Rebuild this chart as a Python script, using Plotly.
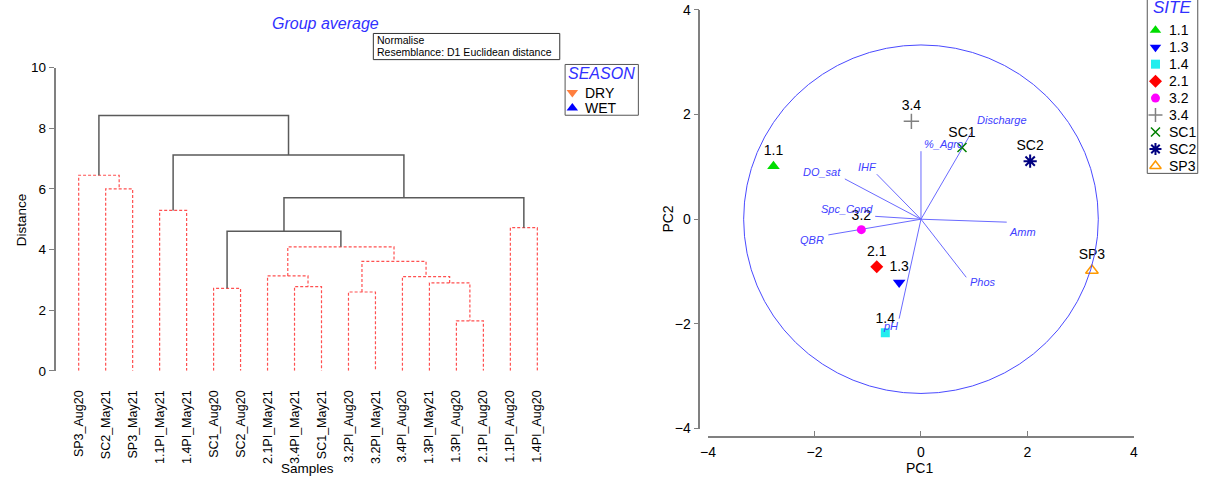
import plotly.graph_objects as go

# ---------------- DATA ----------------
# Dendrogram (group average, Euclidean distance on normalised data)
leaf_labels = ["SP3_Aug20", "SC2_May21", "SP3_May21", "1.1PI_May21", "1.4PI_May21",
               "SC1_Aug20", "SC2_Aug20", "2.1PI_May21", "3.4PI_May21", "SC1_May21",
               "3.2PI_Aug20", "3.2PI_May21", "3.4PI_Aug20", "1.3PI_May21", "1.3PI_Aug20",
               "2.1PI_Aug20", "1.1PI_Aug20", "1.4PI_Aug20"]
leaf_season = ["DRY", "WET", "WET", "WET", "WET", "DRY", "DRY", "WET", "WET", "WET",
               "DRY", "WET", "DRY", "WET", "DRY", "DRY", "DRY", "DRY"]
# internal node k has id 18+k; children refer to leaf ids (0..17) or node ids
merge_left = [1, 0, 3, 5, 8, 7, 10, 14, 13, 12, 24, 23, 21, 16, 30, 20, 19]
merge_right = [2, 18, 4, 6, 9, 22, 11, 15, 25, 26, 27, 28, 29, 17, 31, 32, 33]
merge_height = [6.00, 6.45, 5.29, 2.72, 2.78, 3.13, 2.60, 1.65, 2.90, 3.11,
                3.61, 4.09, 4.60, 4.72, 5.71, 7.12, 8.42]
merge_significant = [False] * 12 + [True, False, True, True, True]

seasons = ["DRY", "WET"]

# PCA
sites = ["1.1", "1.3", "1.4", "2.1", "3.2", "3.4", "SC1", "SC2", "SP3"]
pc1 = [-2.77, -0.41, -0.67, -0.83, -1.12, -0.18, 0.77, 2.05, 3.21]
pc2 = [1.01, -1.21, -2.17, -0.91, -0.20, 1.87, 1.37, 1.11, -0.98]
variables = ["Discharge", "%_Agro", "IHF", "DO_sat", "Spc_Cond", "QBR", "Amm", "Phos", "pH"]
load_pc1 = [0.95, 0.00, -0.83, -1.43, -0.86, -1.74, 1.61, 0.85, -0.41]
load_pc2 = [1.66, 1.30, 0.86, 0.77, 0.055, -0.30, -0.056, -1.11, -1.90]
circle_radius = 3.33

# ---------------- STYLE / LAYOUT ----------------
W, H = 1207, 484
FONT = "Liberation Sans, Arial, sans-serif"
BLUE_TXT = "#3030ff"
season_style = {"DRY": dict(symbol="triangle-down", color="#ff7f3f"),
                "WET": dict(symbol="triangle-up", color="#0000ff")}
site_style = {
    "1.1": dict(symbol="triangle-up", color="#00dd00", size=11, lw=0),
    "1.3": dict(symbol="triangle-down", color="#0000ff", size=11, lw=0),
    "1.4": dict(symbol="square", color="#22eeee", size=9, lw=0),
    "2.1": dict(symbol="diamond", color="#ff0000", size=10, lw=0),
    "3.2": dict(symbol="circle", color="#ff00ff", size=9, lw=0),
    "3.4": dict(symbol="cross-thin-open", color="#808080", size=11, lw=1.5),
    "SC1": dict(symbol="x-thin-open", color="#008000", size=9, lw=1.5),
    "SC2": dict(symbol="asterisk-open", color="#000080", size=11, lw=2),
    "SP3": dict(symbol="triangle-up-open", color="#ff9900", size=11, lw=1.5),
}
# label placement for the vectors (xanchor, xshift px, yshift px)
vec_label_pos = {
    "Discharge": ("left", 3, 12), "%_Agro": ("left", 1, 7), "IHF": ("center", -9, 7),
    "DO_sat": ("right", -2, 7), "Spc_Cond": ("right", 0, 7), "QBR": ("right", -2, -5),
    "Amm": ("left", 0, -10), "Phos": ("left", 2, -5), "pH": ("center", -9, -7),
}


def px(x):
    return x / W


def py(y):
    return 1 - y / H


def txt(x, y, text, size, color="black", style="normal", xanchor="center", angle=0):
    return dict(x=px(x), y=py(y), xref="paper", yref="paper", text=text, showarrow=False,
                xanchor=xanchor, yanchor="middle", textangle=angle,
                font=dict(size=size, color=color, family=FONT, style=style))


# dendrogram placement
LEAF0_PX, LEAF_STEP = 71.4, 27.25
DX0, DX1 = 48.3, 560.0
DY_TOP, DY_BOT = 62.5, 375.5
LEAF_MARKER_Y = -0.34

fig = go.Figure()

# ---------------- DENDROGRAM ----------------
n_leaf = len(leaf_labels)
pos = {i: float(i) for i in range(n_leaf)}
hgt = {i: 0.0 for i in range(n_leaf)}
seg = {True: ([], []), False: ([], [])}
for k, (a, b, h, sig) in enumerate(zip(merge_left, merge_right, merge_height, merge_significant)):
    node = n_leaf + k
    pos[node] = (pos[a] + pos[b]) / 2
    hgt[node] = h
    xs, ys = seg[sig]
    xs += [pos[a], pos[a], pos[b], pos[b], None]
    ys += [hgt[a], h, h, hgt[b], None]

fig.add_trace(go.Scatter(x=seg[False][0], y=seg[False][1], mode="lines",
                         line=dict(color="#ff5050", width=1.2, dash="3px,2px"),
                         xaxis="x", yaxis="y", showlegend=False, hoverinfo="skip"))
fig.add_trace(go.Scatter(x=seg[True][0], y=seg[True][1], mode="lines",
                         line=dict(color="#5a5a5a", width=1.5),
                         xaxis="x", yaxis="y", showlegend=False, hoverinfo="skip"))
for s in seasons:
    idx = [i for i in range(n_leaf) if leaf_season[i] == s]
    fig.add_trace(go.Scatter(x=idx, y=[LEAF_MARKER_Y] * len(idx), mode="markers",
                             marker=dict(symbol=season_style[s]["symbol"], color=season_style[s]["color"], size=10),
                             cliponaxis=False, xaxis="x", yaxis="y", showlegend=False,
                             name=s, text=[leaf_labels[i] for i in idx]))

# ---------------- PCA ----------------
vx, vy = [], []
for a, b in zip(load_pc1, load_pc2):
    vx += [0, a, None]
    vy += [0, b, None]
fig.add_trace(go.Scatter(x=vx, y=vy, mode="lines", line=dict(color="#6a6aff", width=1),
                         xaxis="x2", yaxis="y2", showlegend=False, hoverinfo="skip"))
for s, a, b in zip(sites, pc1, pc2):
    st = site_style[s]
    fig.add_trace(go.Scatter(x=[a], y=[b], mode="markers+text", text=[s], textposition="top center",
                             textfont=dict(size=14, color="black", family=FONT),
                             marker=dict(symbol=st["symbol"], color=st["color"], size=st["size"],
                                         line=dict(color=st["color"], width=st["lw"])),
                             cliponaxis=False, xaxis="x2", yaxis="y2", name=s, showlegend=False))

annotations = []
for v, a, b in zip(variables, load_pc1, load_pc2):
    xa, xs_, ys_ = vec_label_pos[v]
    annotations.append(dict(x=a, y=b, xref="x2", yref="y2", text=v, showarrow=False,
                            xanchor=xa, yanchor="middle", xshift=xs_, yshift=ys_,
                            font=dict(size=11, color="#4040ff", family=FONT, style="italic")))

shapes = [dict(type="circle", xref="x2", yref="y2", x0=-circle_radius, y0=-circle_radius,
               x1=circle_radius, y1=circle_radius, line=dict(color="#4a4aff", width=1))]

# ---------------- LEGENDS (drawn in a pixel overlay) ----------------
# SEASON legend
shapes.append(dict(type="rect", xref="paper", yref="paper", x0=px(562.7), x1=px(636.7),
                   y0=py(111.7), y1=py(59.3), line=dict(color="#555555", width=1), fillcolor="white", layer="below"))
annotations.append(txt(599.7, 68.3, "SEASON", 16, BLUE_TXT, "italic"))
for i, s in enumerate(seasons):
    yy = 88.3 + i * 16
    fig.add_trace(go.Scatter(x=[570], y=[yy], mode="markers", xaxis="x3", yaxis="y3",
                             marker=dict(symbol=season_style[s]["symbol"], color=season_style[s]["color"], size=10),
                             cliponaxis=False, showlegend=False, hoverinfo="skip"))
    annotations.append(txt(580.7, yy, s, 14, xanchor="left"))

# SITE legend
shapes.append(dict(type="rect", xref="paper", yref="paper", x0=px(1150.7), x1=px(1201.7),
                   y0=py(171.7), y1=1.05, line=dict(color="#555555", width=1), fillcolor="white", layer="below"))
annotations.append(txt(1176, 1, "SITE", 17, BLUE_TXT, "italic"))
for i, s in enumerate(sites):
    st = site_style[s]
    yy = 24 + i * 17.5
    fig.add_trace(go.Scatter(x=[1159], y=[yy], mode="markers", xaxis="x3", yaxis="y3",
                             marker=dict(symbol=st["symbol"], color=st["color"], size=min(st["size"], 10),
                                         line=dict(color=st["color"], width=st["lw"])),
                             cliponaxis=False, showlegend=False, hoverinfo="skip"))
    annotations.append(txt(1170.7, yy, s, 14, xanchor="left"))

# ---------------- TITLES & TEXT ----------------
annotations += [
    txt(321, 16.7, "Group average", 16, BLUE_TXT, "italic"),
    txt(371, 34, "Normalise", 10.5, xanchor="left"),
    txt(371, 46.7, "Resemblance: D1 Euclidean distance", 10.5, xanchor="left"),
    txt(13.3, 220, "Distance", 13.5, angle=-90),
    txt(303, 476.7, "Samples", 13.5),
    txt(667, 219, "PC2", 14, angle=-90),
    txt(920.7, 476, "PC1", 14),
]
shapes.append(dict(type="rect", xref="paper", yref="paper", x0=px(369), x1=px(557.3), y0=py(54.3), y1=py(27.3),
                   line=dict(color="#333333", width=1)))

# ---------------- AXES ----------------
x_lo = (DX0 - LEAF0_PX) / LEAF_STEP
x_hi = (DX1 - LEAF0_PX) / LEAF_STEP
axis_gray = "#808080"
fig.update_layout(
    width=W, height=H, margin=dict(l=0, r=0, t=0, b=0),
    paper_bgcolor="white", plot_bgcolor="rgba(0,0,0,0)",
    font=dict(family=FONT, color="black"),
    showlegend=False,
    xaxis=dict(domain=[px(DX0), px(DX1)], range=[x_lo, x_hi], anchor="y",
               tickmode="array", tickvals=list(range(n_leaf)), ticktext=leaf_labels,
               tickangle=-90, ticks="", showline=False, showgrid=False, zeroline=False,
               ticklabelstandoff=16, tickfont=dict(size=12.5, color="black")),
    yaxis=dict(domain=[py(DY_BOT), py(DY_TOP)], range=[0, 10], anchor="x",
               tickvals=[0, 2, 4, 6, 8, 10], ticks="outside", ticklen=5, tickcolor=axis_gray,
               showline=True, linecolor=axis_gray, linewidth=2, showgrid=False, zeroline=False,
               tickfont=dict(size=13.5, color="black")),
    xaxis2=dict(domain=[px(707), px(1137.3)], range=[-4, 4], anchor="free", position=py(443.3),
                tickvals=[-4, -2, 0, 2, 4], ticks="inside", ticklen=5, tickcolor=axis_gray,
                showline=True, linecolor=axis_gray, linewidth=1.5, showgrid=False, zeroline=False,
                ticklabelstandoff=3, tickfont=dict(size=14, color="black")),
    yaxis2=dict(domain=[py(435), py(3)], range=[-4, 4], anchor="free", position=px(698.3),
                tickvals=[-4, -2, 0, 2, 4], ticks="outside", ticklen=5, tickcolor=axis_gray,
                showline=True, linecolor=axis_gray, linewidth=1.5, showgrid=False, zeroline=False,
                tickfont=dict(size=14, color="black")),
    xaxis3=dict(domain=[0, 1], range=[0, W], anchor="y3", visible=False, fixedrange=True),
    yaxis3=dict(domain=[0, 1], range=[H, 0], anchor="x3", visible=False, fixedrange=True),
    annotations=annotations, shapes=shapes,
)

fig.write_html("out.html", config={"displayModeBar": False},
               post_script="document.body.style.margin='0px';document.body.style.overflow='hidden';")
